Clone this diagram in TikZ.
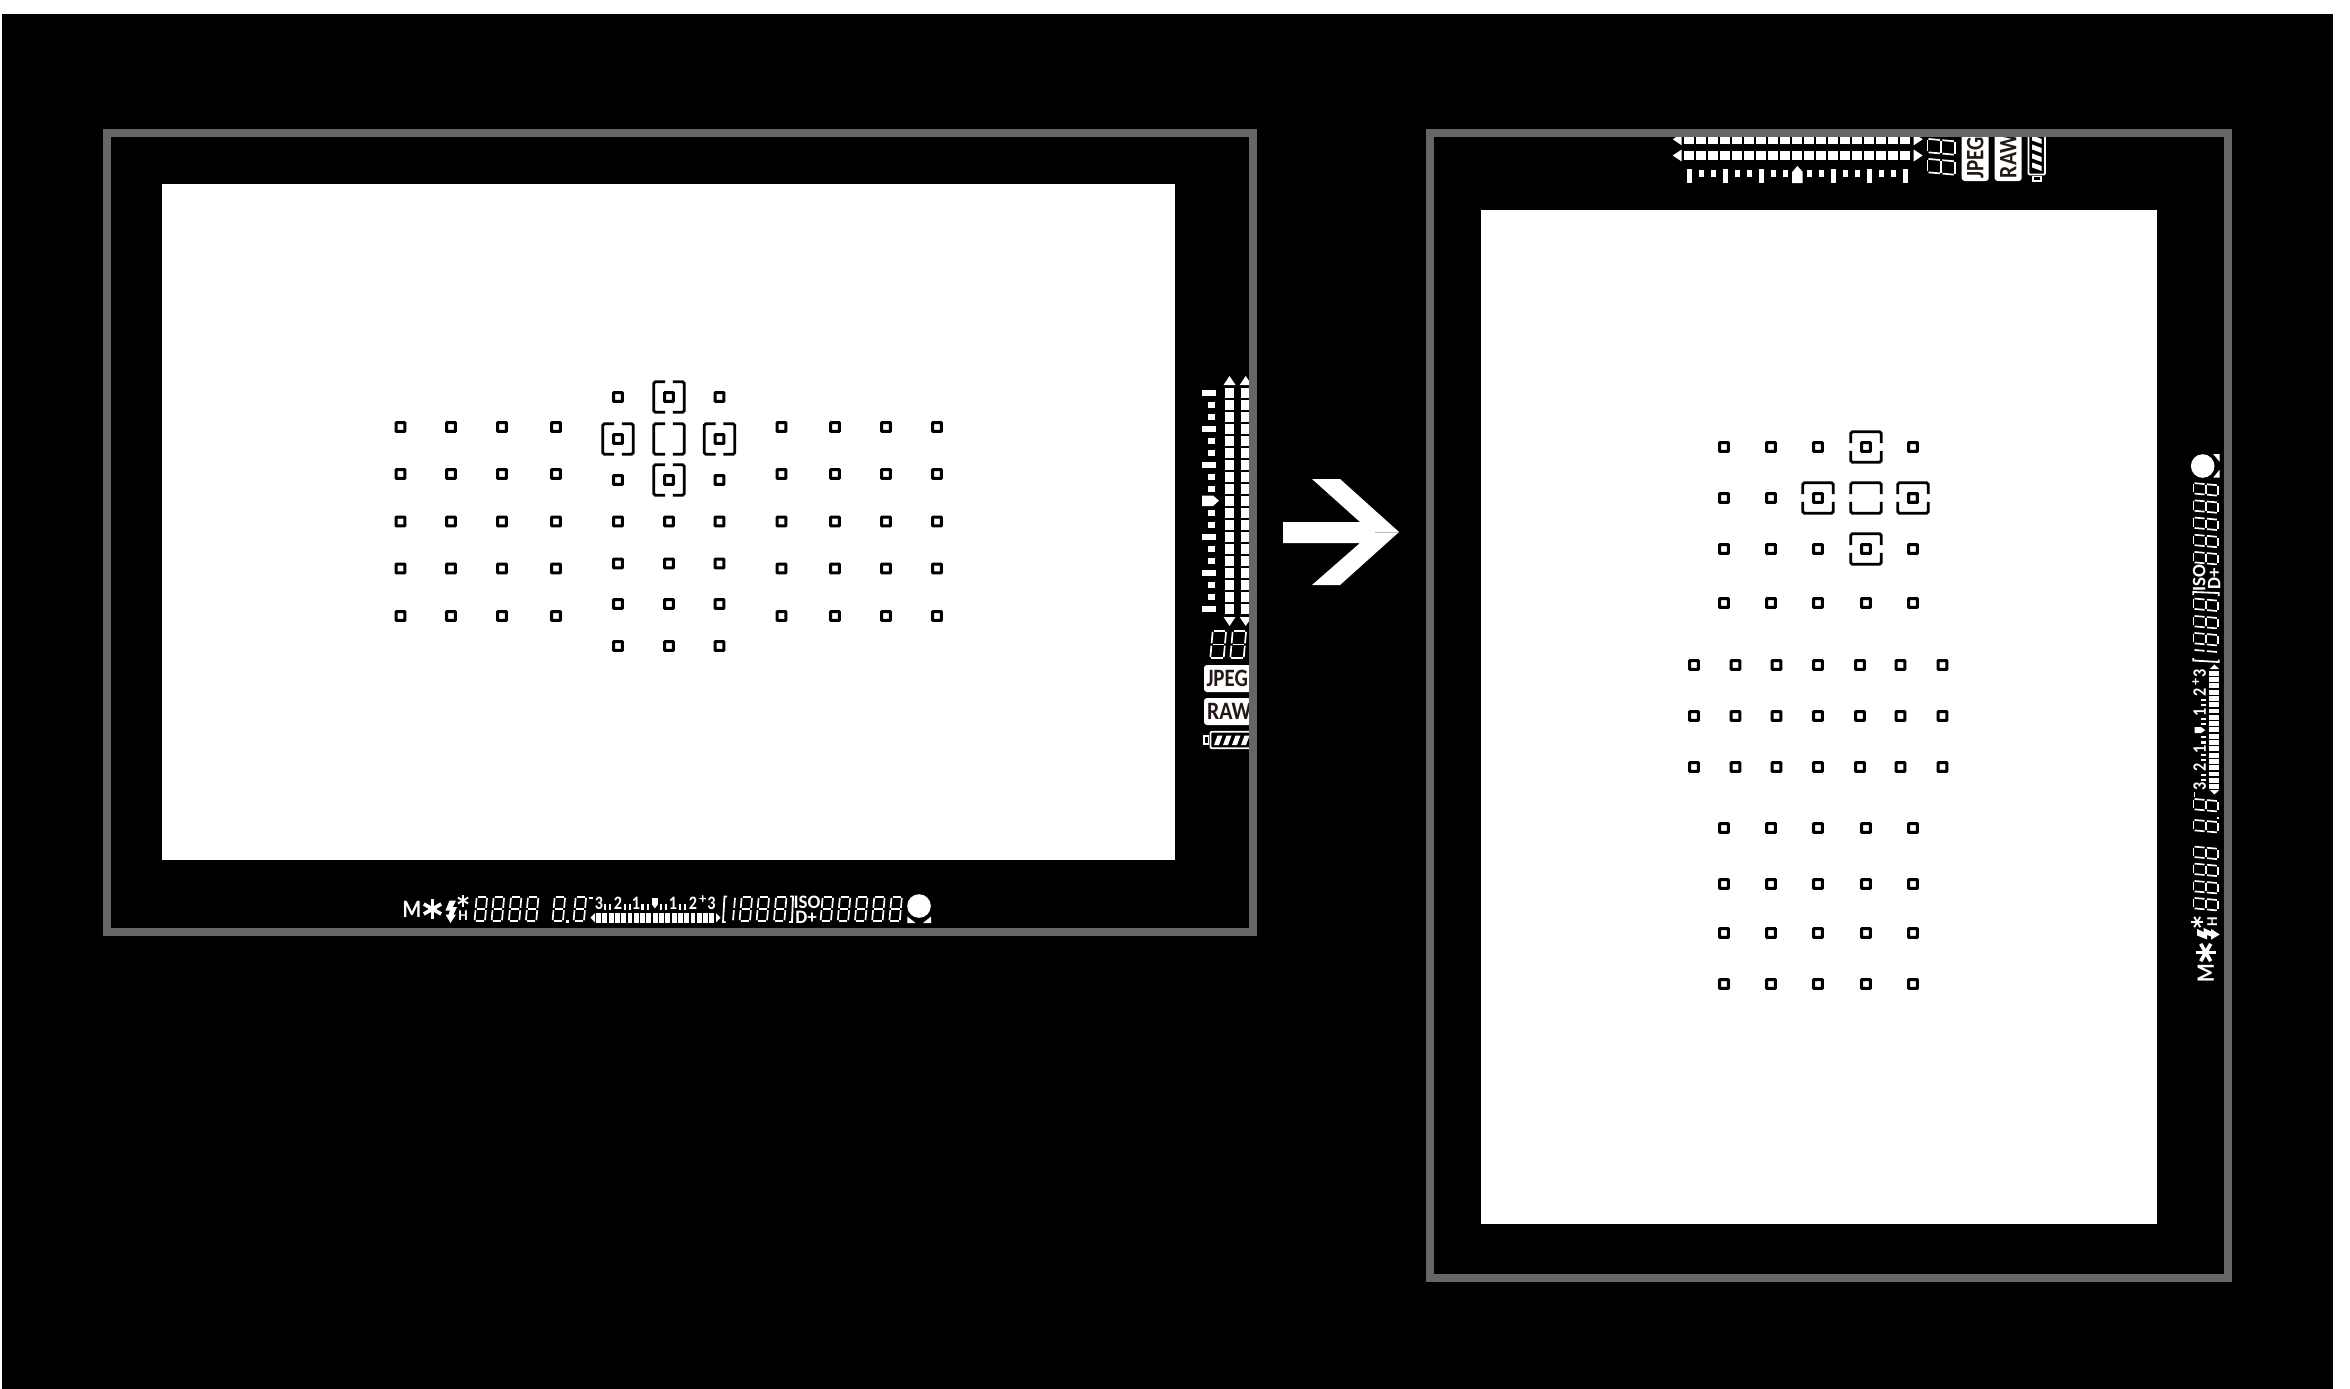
\documentclass[tikz,border=0pt]{standalone}
\usepackage{fontspec}
\setmainfont{Carlito}
\usetikzlibrary{calc}
\definecolor{frameg}{HTML}{666666}
\definecolor{lcdink}{HTML}{231815}
\tikzset{
  lcdtext/.style={inner sep=0pt,outer sep=0pt,text=white,transform shape,font=\bfseries\fontsize{#1}{#1}\selectfont},
  seg/.style={draw=white,line width=1.7pt},
  afsquare/.style={draw=black,line width=3pt,rounded corners=.5pt},
  afbracket/.style={draw=black,line width=2.8pt,rounded corners=1.5pt},
  framebox/.style={draw=frameg,line width=8pt},
}
% seven-segment digit: top-left corner at (#1,#2), width #3, height #4
\newcommand{\sevseg}[4]{%
  \begin{scope}[shift={(#1+2,#2)},xslant=.09]
    \def\w{#3-2}\def\h{#4}
    \draw[seg] (1.8,.8) -- (\w-1.8,.8);
    \draw[seg] (1.8,\h/2) -- (\w-1.8,\h/2);
    \draw[seg] (1.8,\h-.8) -- (\w-1.8,\h-.8);
    \draw[seg] (.8,1.8) -- (.8,\h/2-1.2);
    \draw[seg] (.8,\h/2+1.2) -- (.8,\h-1.8);
    \draw[seg] (\w-.8,1.8) -- (\w-.8,\h/2-1.2);
    \draw[seg] (\w-.8,\h/2+1.2) -- (\w-.8,\h-1.8);
  \end{scope}}
\newcommand{\sevone}[4]{%
  \begin{scope}[shift={(#1+2,#2)},xslant=.09]
    \def\w{#3-2}\def\h{#4}
    \draw[seg] (\w-.8,1.8) -- (\w-.8,\h/2-1.2);
    \draw[seg] (\w-.8,\h/2+1.2) -- (\w-.8,\h-1.8);
  \end{scope}}
% the whole viewfinder frame with its read-outs, in landscape coordinates
\newcommand{\lcdpanel}{%
  \fill[white] (161.5,184) rectangle (1175,860);
  % bottom read-out
  \node[lcdtext=25,anchor=center,xscale=.85] (modeM) at (412,909) {M};
  \foreach \a in {30,90,150}{
    \draw[white,line width=3.6pt] ($(432.5,909)+(\a:10)$) -- ($(432.5,909)+(\a+180:10)$);
    \draw[white,line width=1.9pt] ($(463,900.5)+(\a:6)$) -- ($(463,900.5)+(\a+180:6)$);
  }
  \fill[white] (449.5,900.5)--(456,900.5)--(452.8,907)--(457,907)--(453.5,914.5)--(456,914.5)--(450.5,923)--(445.5,914.5)--(448.5,914.5)--(450,910.5)--(445.5,910.5)--cycle;
  \node[lcdtext=15,anchor=center] (hsync) at (463,915.5) {H};
  \foreach \x in {474,491,508.3,525.3,552,573}{\sevseg{\x}{896}{14}{26}}
  \fill[white] (566,920) rectangle (568.5,922.5);
  % exposure scale
  \fill[white] (588.5,897) rectangle (593,898.6);
  \foreach \t/\x in {3/599,2/618,1/636,1/673,2/693,3/711.5}{
    \node[lcdtext=19,anchor=center,xscale=.85] at (\x,903) {\t};}
  \node[lcdtext=14,anchor=center] at (702.8,899.5) {+};
  \foreach \x in {605,610,625,630,642.5,648,661,666,680,685}{
    \fill[white] (\x-1.3,904) rectangle (\x+1.3,909.5);}
  \fill[white] (652,898) -- (657.8,898) -- (657.8,904.5) -- (654.9,908.5) -- (652,904.5) -- cycle;
  \foreach \i in {0,...,18}{
    \fill[white] ({596+\i*6.3},912.7) rectangle ({596+\i*6.3+4.9},922.7);}
  \fill[white] (595,913) -- (590.5,917.7) -- (595,922.4) -- cycle;
  \fill[white] (716,913) -- (720.5,917.7) -- (716,922.4) -- cycle;
  % frames-remaining group
  \draw[white,line width=1.8pt] (727,896.5) -- (724.5,896.5) -- (723,922) -- (725.5,922);
  \sevone{729}{896}{7}{26}
  \foreach \x in {739,756,773.4}{\sevseg{\x}{896}{14}{26}}
  \draw[white,line width=1.8pt] (790,896.5) -- (793,896.5) -- (792,922) -- (789,922);
  \node[lcdtext=19,anchor=center] (isolab) at (807,902.5) {ISO};
  \node[lcdtext=19,anchor=center] (dplus) at (806,917.5) {D+};
  \foreach \x in {820,837.2,854.4,871.6,888.8}{\sevseg{\x}{896}{14}{26}}
  \fill[white] (919,906) circle[radius=11.8];
  \fill[white] (907.4,916.5) -- (907.4,923) -- (915.5,923) -- cycle;
  \fill[white] (931,916.5) -- (931,923) -- (923,923) -- cycle;
  % right read-out
  \foreach \i in {0,...,18}{
    \pgfmathsetmacro{\yy}{392.7+\i*12}
    \pgfmathtruncatemacro{\mm}{mod(\i,3)}
    \ifnum\mm=0
      \fill[white] (1202,\yy-2.9) rectangle (1216,\yy+2.9);
    \else
      \fill[white] (1208,\yy-2.9) rectangle (1215,\yy+2.9);
    \fi
    \fill[white] (1225,\yy-5) rectangle (1234,\yy+5);
    \fill[white] (1241.2,\yy-5) rectangle (1250.2,\yy+5);
  }
  \fill[white] (1202,495.5) -- (1213,495.5) -- (1219,500.7) -- (1213,506) -- (1202,506) -- cycle;
  \foreach \c in {1229.5,1245.7}{
    \fill[white] (\c-6,385) -- (\c,376) -- (\c+6,385) -- cycle;
    \fill[white] (\c-6,617) -- (\c,626) -- (\c+6,617) -- cycle;
  }
  \sevseg{1210}{630}{17}{29}
  \sevseg{1230}{630}{17}{29}
  \fill[white,rounded corners=3pt] (1204,665) rectangle (1256,692);
  \node[lcdtext=25,text=lcdink,anchor=west,xscale=.84] (jpeg) at (1206.5,678.5) {JPEG};
  \fill[white,rounded corners=3pt] (1204,698) rectangle (1256,725);
  \node[lcdtext=25,text=lcdink,anchor=west,xscale=.87] (raw) at (1207,711.5) {RAW};
  \draw[white,line width=1.6pt] (1204,736) rectangle (1208.5,744);
  \draw[white,line width=1.8pt,rounded corners=1pt] (1254,731.8) -- (1210.5,731.8) -- (1210.5,748.2) -- (1254,748.2);
  \foreach \x in {1215,1224,1233,1242}{
    \fill[white] (\x+2.5,735.5) -- (\x+7.5,735.5) -- (\x+4,745) -- (\x-1,745) -- cycle;}
  % frame
  \draw[framebox] (107,133) rectangle (1252.5,931.5);
}
\newcommand{\afsq}[2]{\draw[afsquare] (#1-4.4,#2-4.4) rectangle (#1+4.4,#2+4.4);}
\newcommand{\afbrkh}[2]{%
  \draw[afbracket] (#1-3.9,#2-15.2) -- (#1-15.2,#2-15.2) -- (#1-15.2,#2+15.2) -- (#1-3.9,#2+15.2);
  \draw[afbracket] (#1+3.9,#2-15.2) -- (#1+15.2,#2-15.2) -- (#1+15.2,#2+15.2) -- (#1+3.9,#2+15.2);}
\newcommand{\afbrkv}[2]{%
  \draw[afbracket] (#1-15.2,#2-3.9) -- (#1-15.2,#2-15.2) -- (#1+15.2,#2-15.2) -- (#1+15.2,#2-3.9);
  \draw[afbracket] (#1-15.2,#2+3.9) -- (#1-15.2,#2+15.2) -- (#1+15.2,#2+15.2) -- (#1+15.2,#2+3.9);}
\begin{document}
\begin{tikzpicture}[x=1pt,y=-1pt]
  \useasboundingbox (0,0) rectangle (2350,1389);
  \fill[white] (0,0) rectangle (2350,1389);
  \fill[black] (2,14) rectangle (2333,1389);
  % landscape panel
  \lcdpanel
  \foreach \y in {427,474,521.5,568.5,616}{
    \foreach \x in {400.5,451,502,556,781.5,835,886,937}{\afsq{\x}{\y}}}
  \foreach \y in {397,480,521.5,563.5,604,646}{
    \foreach \x in {618,719.5}{\afsq{\x}{\y}}}
  \foreach \y in {521.5,563.5,604,646}{\afsq{669}{\y}}
  \afsq{669}{397}\afsq{669}{480}\afsq{618}{439}\afsq{719.5}{439}
  \afbrkh{669}{397}\afbrkh{669}{439}\afbrkh{669}{480}\afbrkh{618}{439}\afbrkh{719.5}{439}
  % arrow
  \fill[white] (1283,522) -- (1360,522) -- (1312,479) -- (1340,479) -- (1399,532) -- (1340,585) -- (1312,585) -- (1360,543) -- (1283,543) -- cycle;
  \draw[black!28,line width=.7pt] (1375,532) -- (1399,532);
  % portrait panel: the same frame turned a quarter turn
  \begin{scope}[shift={(1296.7,1385)},rotate=90]
    \lcdpanel
  \end{scope}
  \foreach \y in {447,498,549,603,828,884,933,984}{
    \foreach \x in {1724,1771,1913}{\afsq{\x}{\y}}}
  \foreach \y in {447,549,603,828,884,933,984}{\afsq{1818}{\y}}
  \foreach \y in {603,828,884,933,984}{\afsq{1866}{\y}}
  \foreach \y in {665,716,767}{
    \foreach \x in {1694,1735.5,1776.5,1818,1860,1900.5,1942.5}{\afsq{\x}{\y}}}
  \afsq{1866}{447}\afsq{1866}{549}\afsq{1818}{498}\afsq{1913}{498}
  \afbrkv{1866}{447}\afbrkv{1866}{498}\afbrkv{1866}{549}\afbrkv{1818}{498}\afbrkv{1913}{498}
\end{tikzpicture}
\end{document}
